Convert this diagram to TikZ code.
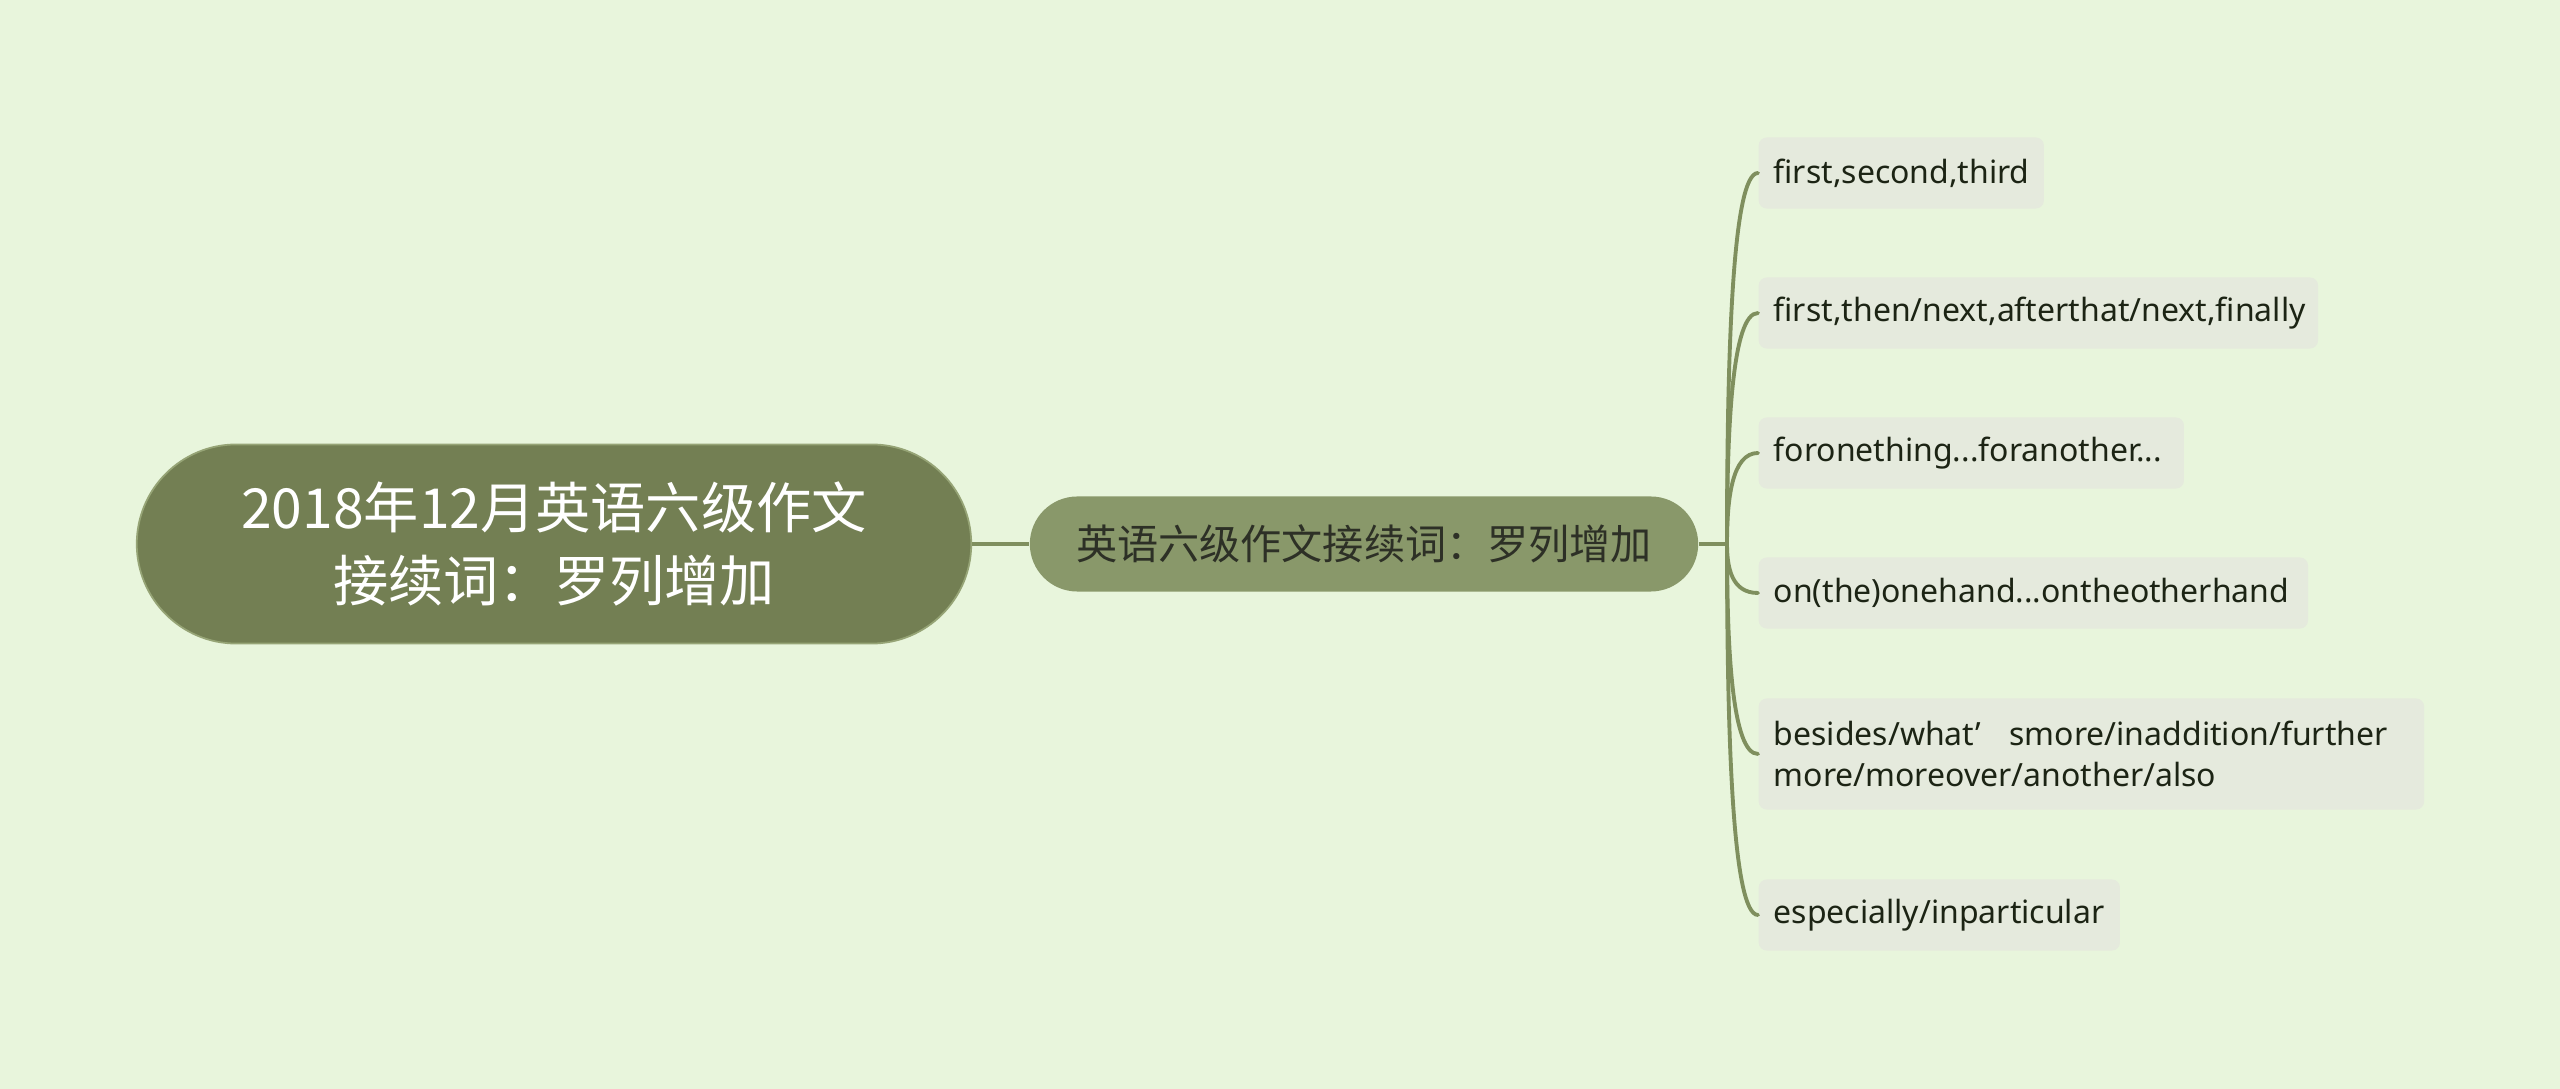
\documentclass[tikz,border=0pt]{standalone}
\usepackage{fontspec}
\setmainfont{Noto Sans}
\newfontfamily\cjk{Noto Sans CJK SC}
\usetikzlibrary{shapes.misc,calc}
\definecolor{bg}{RGB}{232,245,220}
\definecolor{rootfill}{RGB}{115,127,83}
\definecolor{rootline}{RGB}{150,164,118}
\definecolor{midfill}{RGB}{137,152,106}
\definecolor{leaffill}{RGB}{229,234,221}
\definecolor{conn}{RGB}{127,143,94}
\definecolor{midtext}{RGB}{45,48,38}
\definecolor{leaftext}{RGB}{28,36,20}
\tikzset{
  rootbox/.style={rounded rectangle, fill=rootfill, draw=rootline, line width=0.5pt,
    minimum width=8.34cm, minimum height=1.99cm, inner sep=0pt, align=center,
    text=white, font=\cjk\fontsize{15.7pt}{21pt}\selectfont},
  midbox/.style={rounded rectangle, fill=midfill, minimum width=6.68cm,
    minimum height=0.95cm, inner sep=0pt, text=midtext,
    font=\cjk\fontsize{11.7pt}{14pt}\selectfont},
  leafbox/.style={rectangle, rounded corners=0.08cm, fill=leaffill, anchor=west,
    minimum height=0.71cm, inner xsep=0.15cm, inner ysep=0pt, align=left,
    text=leaftext, font=\fontsize{9.1pt}{11.7pt}\selectfont},
  connline/.style={draw=conn, line width=1.4pt},
  leafline/.style={draw=conn, line width=1.1pt, line cap=round}
}
\begin{document}
\begin{tikzpicture}[x=0.01cm,y=-0.01cm]
\fill[bg] (0,0) rectangle (2560,1089);
\useasboundingbox (0,0) rectangle (2560,1089);

\node[rootbox] (root) at (554,544) {2018年12月英语六级作文\\接续词：罗列增加};
\node[midbox] (mid) at (1364,544) {英语六级作文接续词：罗列增加};
\coordinate (trunk) at (1727,544);

\node[leafbox] (l1) at (1758,173) {\makebox[2.55cm][l]{first,second,third}};
\node[leafbox] (l2) at (1758,313) {\makebox[5.29cm][l]{first,then/next,afterthat/next,finally}};
\node[leafbox] (l3) at (1758,453) {\makebox[3.95cm][l]{foronething...foranother...}};
\node[leafbox] (l4) at (1758,593) {\makebox[5.19cm][l]{on(the)onehand...ontheotherhand}};
\node[leafbox, minimum height=1.11cm] (l5) at (1758,754) {\makebox[6.35cm][l]{besides/what’\hspace{0.9em}smore/inaddition/further}\\\makebox[6.35cm][l]{more/moreover/another/also}};
\node[leafbox] (l6) at (1758,915) {\makebox[3.31cm][l]{especially/inparticular}};

\draw[connline] (root.east) -- (mid.west);
\draw[connline] (mid.east) -- (trunk);
\foreach \n in {l1,l2,l3,l4,l5,l6}{
  \draw[leafline] (trunk) .. controls ($(trunk)!0.5!(trunk |- \n.west)$) and ([xshift=0.05cm]trunk |- \n.west) .. (\n.west);
}
\end{tikzpicture}
\end{document}
